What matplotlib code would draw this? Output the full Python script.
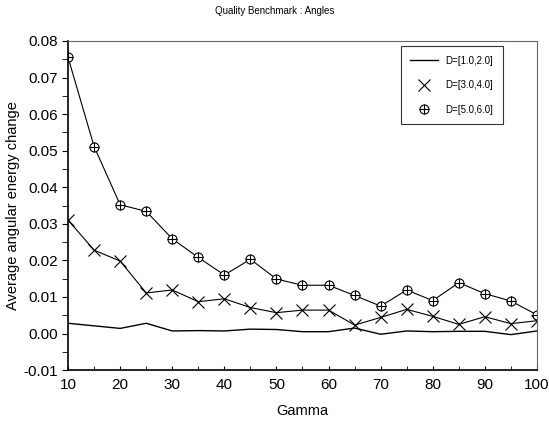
import numpy as np
import matplotlib
matplotlib.use("Agg")
import matplotlib.pyplot as plt
from matplotlib.ticker import MultipleLocator, FormatStrFormatter
from matplotlib.lines import Line2D
from matplotlib.legend_handler import HandlerTuple

plt.rcParams["font.family"] = ["Liberation Sans", "DejaVu Sans"]

gamma = [10, 15, 20, 25, 30, 35, 40, 45, 50, 55, 60, 65, 70, 75, 80, 85, 90, 95, 100]
d12 = [0.0028, 0.0021, 0.0014, 0.0028, 0.0007, 0.0008, 0.0007, 0.0012, 0.0011, 0.0005,
       0.0005, 0.0015, -0.0002, 0.0007, 0.0005, 0.0006, 0.0006, -0.0003, 0.0007]
d34 = [0.0310, 0.0228, 0.0198, 0.0111, 0.0119, 0.0087, 0.0095, 0.0071, 0.0057, 0.0064,
       0.0064, 0.0023, 0.0044, 0.0066, 0.0047, 0.0025, 0.0046, 0.0027, 0.0035]
d56 = [0.0755, 0.0511, 0.0352, 0.0334, 0.0259, 0.0208, 0.0160, 0.0203, 0.0149, 0.0132,
       0.0132, 0.0104, 0.0075, 0.0119, 0.0090, 0.0139, 0.0109, 0.0089, 0.0051]
labels = ["D=[1.0,2.0]", "D=[3.0,4.0]", "D=[5.0,6.0]"]

fig = plt.figure(figsize=(5.49, 4.22), dpi=100)
ax = fig.add_axes([0.124, 0.123, 0.854, 0.780])

ax.plot(gamma, d12, "-", color="black", lw=1.0)
ax.plot(gamma, d34, "-", color="black", lw=0.8, marker="x", ms=8, mew=0.8)
ax.plot(gamma, d56, "-", color="black", lw=0.8, marker="o", ms=6.5, mfc="white",
        mec="black", mew=0.8)
ax.plot(gamma, d56, ls="none", color="black", marker="+", ms=6.5, mew=0.8)

# legend handles: markers only for the marked series
h1 = Line2D([], [], color="black", lw=1.0)
h2 = Line2D([], [], ls="none", color="black", marker="x", ms=8, mew=0.8)
h3o = Line2D([], [], ls="none", marker="o", ms=6.5, mfc="white", mec="black", mew=0.8)
h3p = Line2D([], [], ls="none", color="black", marker="+", ms=6.5, mew=0.8)

ax.set_xlim(10, 100)
ax.set_ylim(-0.01, 0.08)
ax.xaxis.set_major_locator(MultipleLocator(10))
ax.xaxis.set_minor_locator(MultipleLocator(5))
ax.yaxis.set_major_locator(MultipleLocator(0.01))
ax.yaxis.set_minor_locator(MultipleLocator(0.005))
ax.yaxis.set_major_formatter(FormatStrFormatter("%.2f"))
ax.tick_params(axis="x", which="both", direction="in", length=3, labelsize=11, pad=6)
ax.tick_params(axis="y", which="both", direction="out", length=4, labelsize=11)
for s in ["top", "right"]:
    ax.spines[s].set_color("0.4")
    ax.spines[s].set_linewidth(0.8)
for s in ["left", "bottom"]:
    ax.spines[s].set_linewidth(1.2)

ax.set_xlabel("Gamma", fontsize=10.5, labelpad=8)
ax.set_ylabel("Average angular energy change", fontsize=10.5, labelpad=2)
fig.suptitle("Quality Benchmark : Angles", fontsize=7, y=0.985)

leg = ax.legend([h1, h2, (h3o, h3p)], labels, loc="upper right", fontsize=7,
                frameon=True, fancybox=False, edgecolor="black", borderpad=1.0,
                labelspacing=1.5, handlelength=2.8,
                handler_map={tuple: HandlerTuple(ndivide=1)},
                bbox_to_anchor=(0.938, 1.0))
leg.get_frame().set_linewidth(0.8)

fig.savefig("out.png", dpi=100)
